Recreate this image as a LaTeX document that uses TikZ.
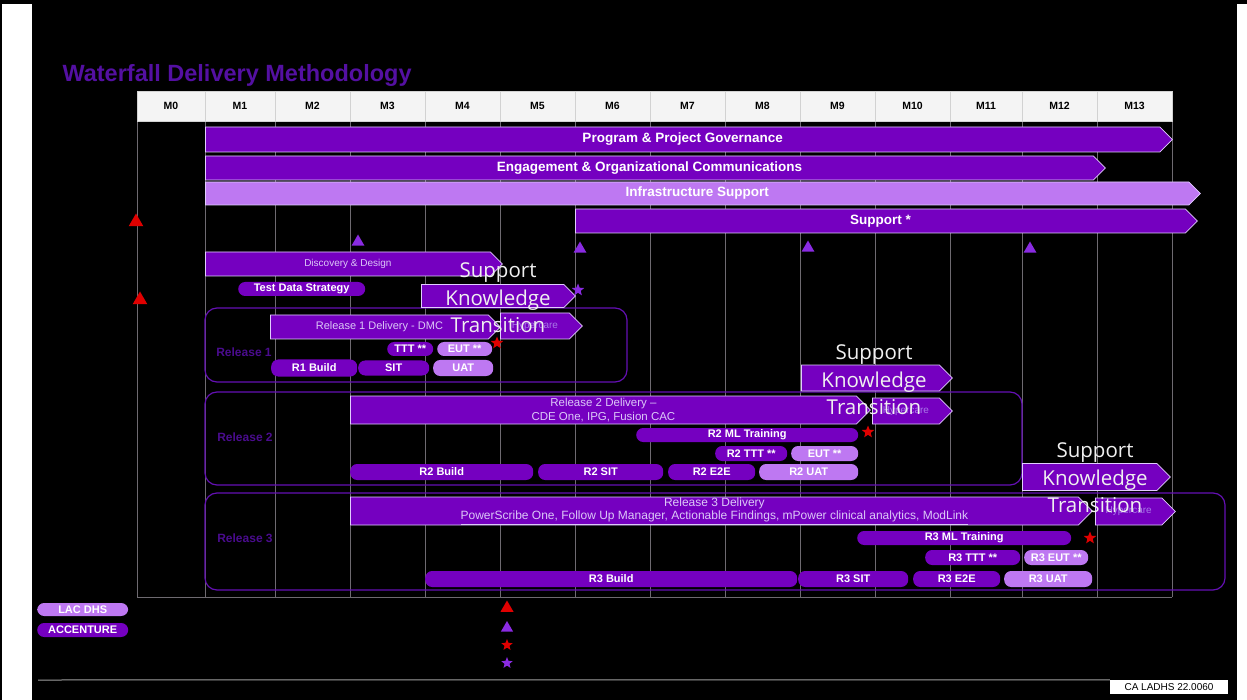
\documentclass[tikz,border=0pt]{standalone}
\usepackage{fontspec}
\setmainfont{Liberation Sans}
\newfontfamily\sktfont{Open Sans}
\usetikzlibrary{shapes.geometric, shapes.symbols}
\definecolor{acndark}{HTML}{7500C0}
\definecolor{acnlight}{HTML}{BE78F2}
\definecolor{acnedge}{HTML}{E2CCFF}
\definecolor{acntitle}{HTML}{5410A2}
\definecolor{acnrelname}{HTML}{4A0C8E}
\definecolor{acnframe}{HTML}{6410B4}
\definecolor{acnsoft}{HTML}{DCC8F8}
\definecolor{acnfaint}{HTML}{A878E8}
\definecolor{acnred}{HTML}{E00000}
\definecolor{acnstar}{HTML}{8A2BE2}
\definecolor{gridgray}{HTML}{6E6A70}
\definecolor{hdrwhite}{HTML}{F4F4F4}

\begin{document}
\begin{tikzpicture}[x=1pt, y=-1pt,
    taskbar/.style={shape=signal, signal to=east, signal pointer angle=90,
                    fill=acndark, draw=acnedge, line width=0.8pt, anchor=west,
                    minimum width=#1, minimum height=24pt, inner sep=0pt,
                    text=white, font=\fontsize{13.5}{15}\selectfont\bfseries},
    lighttaskbar/.style={taskbar=#1, fill=acnlight},
    pill/.style={rectangle, rounded corners=7pt, fill=acndark, anchor=west,
                 minimum width=#1, minimum height=15pt, inner sep=0pt,
                 text=white, font=\fontsize{11}{12}\selectfont\bfseries},
    lightpill/.style={pill=#1, fill=acnlight},
    monthcell/.style={draw=gray!35, fill=hdrwhite, minimum height=30pt,
                      inner sep=0pt, font=\fontsize{10.5}{12}\selectfont\bfseries},
    gridline/.style={draw=gridgray, line width=0.6pt},
    relbox/.style={draw=acnframe, line width=1.2pt, rounded corners=12pt},
    relname/.style={text=acnrelname, font=\fontsize{12}{14}\selectfont\bfseries},
    sktext/.style={align=center, text=gray!12, inner sep=0pt,
                   font=\sktfont\fontsize{20.5}{27.5}\selectfont},
    lacmark/.style={regular polygon, regular polygon sides=3, fill=acnred,
                    minimum size=17pt, inner sep=0pt},
    acnmark/.style={lacmark, fill=acnstar, minimum size=15pt},
    lacstar/.style={star, star points=5, star point ratio=2.3, fill=acnred,
                    minimum size=13pt, inner sep=0pt},
    acnstar/.style={lacstar, fill=acnstar},
]
    \useasboundingbox (0,0) rectangle (1247,700);
    % page frame
    \fill[white] (0,0) rectangle (1247,700);
    \fill[black] (32,4) rectangle (1237,700);
    \draw[black, line width=2pt] (1,0) -- (1,700);
    \fill[black] (0,0) rectangle (1247,4);

    \node[text=acntitle, anchor=base west, font=\fontsize{23.5}{26}\selectfont\bfseries] (title) at (59,82) {Waterfall Delivery Methodology};

    % month header and grid
    \foreach \x in {137,205,275,350,425,500,575,650,725,800,875,950,1022,1097,1172}
        \draw[gridline] (\x,121) -- (\x,597);
    \draw[gridline] (137,597) -- (1172,597);
    \foreach \m/\a/\b in {0/137/205, 1/205/275, 2/275/350, 3/350/425, 4/425/500,
                          5/500/575, 6/575/650, 7/650/725, 8/725/800, 9/800/875,
                          10/875/950, 11/950/1022, 12/1022/1097, 13/1097/1172}
        \node[monthcell, minimum width=\b-\a] (m\m) at ({(\a+\b)/2},106) {M\m};

    % release groups
    \draw[relbox] (205,308) rectangle (627,382);
    \draw[relbox] (205,392) rectangle (1022,485);
    \draw[relbox] (205,493) rectangle (1225,590);
    \node[relname] (rel1) at (244,352) {Release 1};
    \node[relname] (rel2) at (245,437) {Release 2};
    \node[relname] (rel3) at (245,538) {Release 3};

    % program-wide streams
    \node[taskbar=967pt, minimum height=25pt] (gov) at (205,139.5) {Program \& Project Governance};
    \node[taskbar=900pt] (eng) at (205,168) {Engagement \& Organizational Communications};
    \node[lighttaskbar=995pt, minimum height=23pt] (infra) at (205,193.5) {Infrastructure Support};
    \node[taskbar=622pt] (supp) at (575,221) {Support *};

    \node[taskbar=297pt, text=acnsoft, font=\fontsize{10}{12}\selectfont] (disc) at (205,264) {Discovery \& Design};
    \node[pill=127pt, minimum height=14pt] (tds) at (238,289) {Test Data Strategy};

    % release 1
    \node[taskbar=230pt, text=acnsoft, font=\fontsize{11}{13}\selectfont] (r1del) at (270,327) {Release 1 Delivery - DMC};
    \node[taskbar=82pt, minimum height=26pt, text=acnfaint, font=\fontsize{10}{11}\selectfont] (r1hyp) at (500,326) {Hypercare};
    \node[taskbar=154pt, minimum height=23pt] (r1skt) at (421,296) {};
    \node[pill=46pt, minimum height=14pt] (r1ttt) at (387,349) {TTT **};
    \node[lightpill=55pt, minimum height=14pt] (r1eut) at (437,349) {EUT **};
    \node[pill=86pt, minimum height=17pt] (r1build) at (271,368) {R1 Build};
    \node[pill=71pt] (r1sit) at (358,368) {SIT};
    \node[lightpill=60pt, minimum height=16pt] (r1uat) at (433,368) {UAT};

    % release 2
    \node[taskbar=520pt, minimum height=28pt, text=acnsoft, align=center,
          font=\fontsize{11.5}{13.5}\selectfont] (r2del) at (350,410) {Release 2 Delivery --\\CDE One, IPG, Fusion CAC};
    \node[taskbar=80pt, minimum height=26pt, text=acnfaint, font=\fontsize{10}{11}\selectfont] (r2hyp) at (872,411) {Hypercare};
    \node[taskbar=151pt, minimum height=26pt] (r2skt) at (801,378) {};
    \node[pill=222pt, minimum height=14pt] (r2ml) at (636,435) {R2 ML Training};
    \node[pill=72pt] (r2ttt) at (715,453.5) {R2 TTT **};
    \node[lightpill=67pt] (r2eut) at (791,453.5) {EUT **};
    \node[pill=183pt, minimum height=16pt] (r2build) at (350,472) {R2 Build};
    \node[pill=125pt, minimum height=16pt] (r2sit) at (538,472) {R2 SIT};
    \node[pill=87pt, minimum height=16pt] (r2e2e) at (668,472) {R2 E2E};
    \node[lightpill=99pt, minimum height=16pt] (r2uat) at (759,472) {R2 UAT};

    % release 3
    \node[taskbar=742pt, minimum height=28pt, text=acnsoft, align=center,
          font=\fontsize{12}{13.5}\selectfont] (r3del) at (350,511) {Release 3 Delivery\\\underline{PowerScribe One, Follow Up Manager, Actionable Findings, mPower clinical analytics, ModLink}};
    \node[taskbar=80pt, minimum height=27pt, text=acnfaint, font=\fontsize{10}{11}\selectfont] (r3hyp) at (1095,511.5) {Hypercare};
    \node[taskbar=148pt, minimum height=27pt] (r3skt) at (1022,477) {};
    \node[pill=214pt, minimum height=14pt] (r3ml) at (857,538) {R3 ML Training};
    \node[pill=95pt] (r3ttt) at (925,557.5) {R3 TTT **};
    \node[lightpill=64pt] (r3eut) at (1024,557.5) {R3 EUT **};
    \node[pill=372pt, minimum height=16pt] (r3build) at (425,579) {R3 Build};
    \node[pill=110pt, minimum height=16pt] (r3sit) at (798,579) {R3 SIT};
    \node[pill=87pt, minimum height=16pt] (r3e2e) at (913,579) {R3 E2E};
    \node[lightpill=88pt, minimum height=16pt] (r3uat) at (1004,579) {R3 UAT};

    % milestones
    \node[lacmark] (ms0a) at (136,222) {};
    \node[lacmark] (ms0b) at (140,300) {};
    \node[acnmark] (ms3) at (358,242) {};
    \node[acnmark] (ms6) at (580,249) {};
    \node[acnmark] (ms9) at (808,248) {};
    \node[acnmark] (ms12) at (1030,249) {};
    \node[acnstar] (st1) at (578,290) {};
    \node[lacstar] (rs1) at (497,343) {};
    \node[lacstar] (rs2) at (868,432) {};
    \node[lacstar] (rs3) at (1090,538) {};

    % knowledge transition text runs over its bar
    \node[sktext] (r1skttxt) at (498,298) {Support\\Knowledge\\Transition};
    \node[sktext] (r2skttxt) at (874,380) {Support\\Knowledge\\Transition};
    \node[sktext] (r3skttxt) at (1095,478) {Support\\Knowledge\\Transition};

    % legend
    \node[lightpill=91pt, minimum height=13pt] (leglac) at (37,609.5) {LAC DHS};
    \node[pill=91pt, minimum height=14pt] (legacn) at (37,630) {ACCENTURE};
    \node[lacmark, minimum size=15pt] (leg1) at (507,608) {};
    \node[acnmark, minimum size=14pt] (leg2) at (507,628) {};
    \node[lacstar, minimum size=12pt] (leg3) at (507,645) {};
    \node[acnstar, minimum size=12pt] (leg4) at (507,663) {};

    % footer
    \node[fill=white, text=black, minimum width=118pt, minimum height=14pt, inner sep=0pt,
          font=\fontsize{10}{11}\selectfont] (docref) at (1169,687) {CA LADHS 22.0060};
    \draw[gray!75, line width=1pt] (38,680) -- (docref.north west);
\end{tikzpicture}
\end{document}
